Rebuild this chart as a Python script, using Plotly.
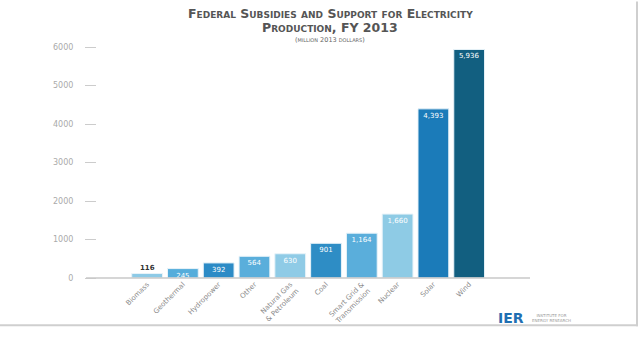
import plotly.graph_objects as go

# Federal subsidies and support for electricity production, FY 2013 (million 2013 dollars)
categories = ["Biomass", "Geothermal", "Hydropower", "Other", "Natural Gas<br>& Petroleum",
              "Coal", "Smart Grid &<br>Transmission", "Nuclear", "Solar", "Wind"]
values = [116, 245, 392, 564, 630, 901, 1164, 1660, 4393, 5936]
value_labels = ["116", "245", "392", "564", "630", "901", "1,164", "1,660", "4,393", "5,936"]
bar_colors = ["#8dcae6", "#55addb", "#2c8bc6", "#5aaedb", "#8fcbe6",
              "#2e8dc5", "#5aaedb", "#8ecbe5", "#1b7bb9", "#125f80"]
y_ticks = [0, 1000, 2000, 3000, 4000, 5000, 6000]

W, H = 640, 338
L, R, T, B = 97, 530, 47, 286  # plot area in pixels


def px(x):
    return (x - L) / (R - L)


def py(y):
    return (B - y) / (B - T)


xs = list(range(len(categories)))
fig = go.Figure()
fig.add_trace(go.Bar(
    x=xs, y=values, marker=dict(color=bar_colors, line=dict(color="#e8f3f9", width=1)),
    width=0.86, text=[""] + value_labels[1:], textposition="inside", insidetextanchor="end",
    textfont=dict(color="white", size=7, family="DejaVu Sans"), cliponaxis=False,
    hoverinfo="skip",
))
# the smallest bar carries its label above it
fig.add_annotation(x=0, y=values[0], text="<b>" + value_labels[0] + "</b>", showarrow=False,
                   yanchor="bottom", font=dict(size=7, color="#333", family="DejaVu Sans"))

fig.update_layout(
    width=W, height=H, margin=dict(l=L, r=W - R, t=T, b=H - B),
    plot_bgcolor="white", paper_bgcolor="white", showlegend=False,
    uniformtext=dict(minsize=7, mode="show"),
    xaxis=dict(range=[-1.4, 10.7], tickmode="array", tickvals=xs, ticktext=categories,
               tickangle=-45, tickfont=dict(size=7, color="#888", family="DejaVu Sans"),
               showgrid=False, zeroline=False, showline=False, ticks=""),
    yaxis=dict(range=[0, 6000], tickvals=y_ticks, ticktext=[str(v) for v in y_ticks],
               tickfont=dict(size=8, color="#aaa", family="DejaVu Sans"),
               ticks="outside", ticklen=11, tickcolor="#ccc", ticklabelstandoff=10,
               showgrid=False, zeroline=False, showline=False),
    font=dict(family="DejaVu Sans"),
)

# baseline
fig.add_shape(type="line", xref="paper", yref="paper", x0=px(86), x1=1, y0=0, y1=0,
              line=dict(color="#c8c8c8", width=1.5))
# frame edges on right and bottom
fig.add_shape(type="line", xref="paper", yref="paper", x0=px(637), x1=px(637), y0=py(0), y1=py(336),
              line=dict(color="#cfcfcf", width=2))
fig.add_shape(type="line", xref="paper", yref="paper", x0=px(0), x1=px(638), y0=py(335), y1=py(335),
              line=dict(color="#cfcfcf", width=2))

# title
title_lines = [
    ("<b>Federal Subsidies and Support for Electricity</b>", 12, 12.5, "#555"),
    ("<b>Production, FY 2013</b>", 27, 12.5, "#555"),
    ("(million 2013 dollars)", 40, 6.5, "#666"),
]
for txt, ypix, size, col in title_lines:
    fig.add_annotation(xref="paper", yref="paper", x=px(330), y=py(ypix), showarrow=False,
                       xanchor="center", yanchor="middle", text=txt,
                       font=dict(size=size, color=col, variant="small-caps", family="DejaVu Sans"))

# IER mark
fig.add_annotation(xref="paper", yref="paper", x=px(496), y=py(327), xanchor="left", yanchor="middle",
                   showarrow=False, text="<b>IER</b>",
                   font=dict(size=14, color="#1f6fb2", family="DejaVu Sans"))
fig.add_annotation(xref="paper", yref="paper", x=px(530), y=py(327), xanchor="left", yanchor="middle",
                   showarrow=False, text="INSTITUTE FOR<br>ENERGY RESEARCH",
                   font=dict(size=4, color="#999", family="DejaVu Sans"))

fig.write_html("out.html")
